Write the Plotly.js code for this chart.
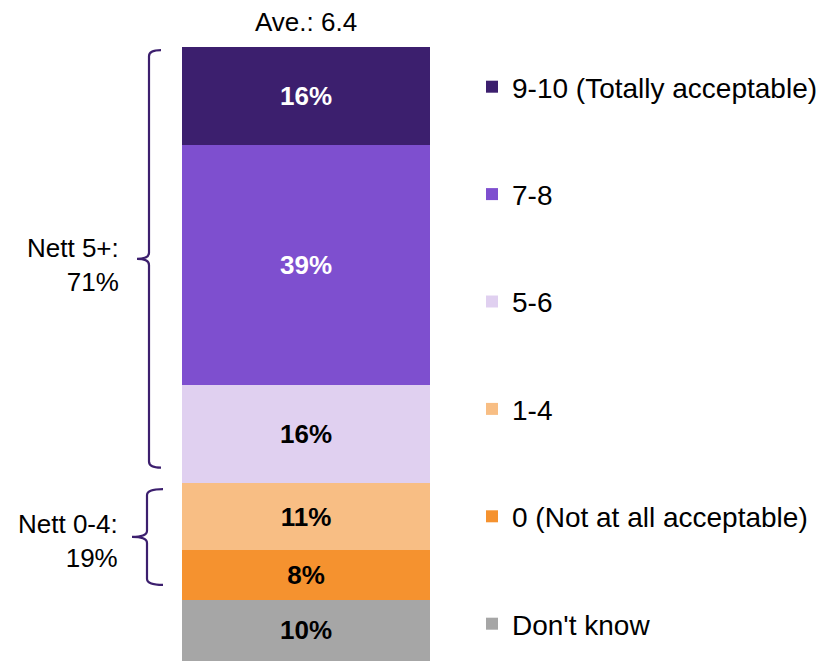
<!DOCTYPE html>
<html>
<head>
<meta charset="utf-8">
<script src="https://cdn.plot.ly/plotly-3.0.1.min.js"></script>
<style>html,body{margin:0;padding:0;background:#fff;}#chart{width:823px;height:661px;}</style>
</head>
<body>
<div id="chart"></div>
<script>
// Data (bottom to top of the stack)
const categories = ["Don't know", "0 (Not at all acceptable)", "1-4", "5-6", "7-8", "9-10 (Totally acceptable)"];
const values = [10, 8, 11, 16, 39, 16];
const colors = ["#a6a6a6", "#f5922f", "#f8be84", "#e0d0f0", "#7e4fcf", "#3c1f6e"];
const labelColors = ["#000000", "#000000", "#000000", "#000000", "#ffffff", "#ffffff"];
const barName = ["Q"];
const average = "Ave.: 6.4";
const nettLabels = ["Nett 5+:<br>71%", "Nett 0-4:<br>19%"];

const W = 823, H = 661;
const FONT = "Liberation Sans, Arial, sans-serif";

const traces = categories.map((c, i) => ({
  type: "bar",
  x: barName,
  y: [values[i]],
  name: c,
  legendgroup: "g" + i,
  legendrank: categories.length - i,
  marker: {color: colors[i], line: {width: 0}},
  text: [values[i] + "%"],
  textposition: "inside",
  insidetextanchor: "middle",
  textangle: 0,
  textfont: {family: FONT, size: 26, color: labelColors[i], weight: "bold"},
  width: 1,
  hoverinfo: "skip"
}));

// cumulative sums for bracket extents
const cum = [0];
values.forEach(v => cum.push(cum[cum.length - 1] + v));
// Nett 5+ covers indices 3..5, Nett 0-4 covers 1..2
const br5 = [cum[3] + 2.5, cum[6] - 0.5];
const br04 = [cum[1] + 2.4, cum[3] - 1];

function px(x) { return x / W; }
function brace(xLine, xEnd, xTip, y0, y1) {
  const mid = (y0 + y1) / 2;
  const r = 1.0;
  return "M " + px(xEnd) + "," + y1 +
    " Q " + px(xLine) + "," + y1 + " " + px(xLine) + "," + (y1 - r) +
    " L " + px(xLine) + "," + (mid + r) +
    " Q " + px(xLine) + "," + mid + " " + px(xTip) + "," + mid +
    " Q " + px(xLine) + "," + mid + " " + px(xLine) + "," + (mid - r) +
    " L " + px(xLine) + "," + (y0 + r) +
    " Q " + px(xLine) + "," + y0 + " " + px(xEnd) + "," + y0;
}

const layout = {
  width: W, height: H,
  margin: {l: 0, r: 0, t: 0, b: 0, pad: 0},
  paper_bgcolor: "#ffffff",
  plot_bgcolor: "#ffffff",
  barmode: "stack",
  bargap: 0,
  showlegend: true,
  legend: {
    x: 472 / W, xanchor: "left",
    y: 1 - 62 / H, yanchor: "top",
    traceorder: "grouped",
    tracegroupgap: 68,
    font: {family: FONT, size: 28, color: "#000000"},
    bgcolor: "rgba(0,0,0,0)",
    itemclick: false
  },
  xaxis: {
    domain: [182 / W, 430 / W],
    range: [-0.5, 0.5],
    visible: false,
    fixedrange: true
  },
  yaxis: {
    domain: [0, (H - 47) / H],
    range: [0, 100],
    visible: false,
    fixedrange: true
  },
  shapes: [
    {type: "path", xref: "paper", yref: "y", path: brace(149, 161, 137, br5[0], br5[1]),
     line: {color: "#3c1f6e", width: 2.2}},
    {type: "path", xref: "paper", yref: "y", path: brace(147, 163, 132, br04[0], br04[1]),
     line: {color: "#3c1f6e", width: 2.2}}
  ],
  annotations: [
    {text: average, xref: "x", yref: "paper", x: 0, y: 1 - 22 / H, showarrow: false,
     font: {family: FONT, size: 26, color: "#000000"}, xanchor: "center", yanchor: "middle"},
    {text: nettLabels[0], xref: "paper", yref: "y", x: 121 / W, y: (cum[3] + cum[6]) / 2,
     showarrow: false, align: "right", xanchor: "right", yanchor: "middle",
     font: {family: FONT, size: 26, color: "#000000"}},
    {text: nettLabels[1], xref: "paper", yref: "y", x: 120 / W, y: (cum[1] + cum[3]) / 2,
     showarrow: false, align: "right", xanchor: "right", yanchor: "middle",
     font: {family: FONT, size: 26, color: "#000000"}}
  ]
};

Plotly.newPlot("chart", traces, layout, {staticPlot: true, displayModeBar: false});
</script>
</body>
</html>
